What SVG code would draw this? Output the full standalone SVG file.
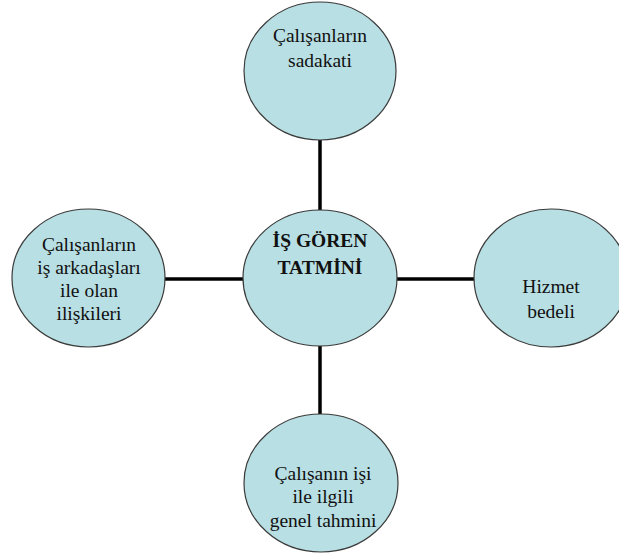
<svg xmlns="http://www.w3.org/2000/svg" width="619" height="557" viewBox="0 0 619 557">
<style>
.n{fill:#b8dfe3;stroke:#3a3a3a;stroke-width:1.2}
.t{font-family:"Liberation Serif","Times New Roman",serif;font-size:19.5px;fill:#111;text-anchor:middle}
.b{font-weight:bold}
.c{stroke:#000;stroke-width:3.5;fill:none}
</style>
<rect width="619" height="557" fill="#fff"/>
<g id="connectors">
<line class="c" x1="320" y1="139" x2="320" y2="210"/>
<line class="c" x1="320" y1="346" x2="320" y2="414"/>
<line class="c" x1="164" y1="279" x2="244" y2="279"/>
<line class="c" x1="396" y1="279" x2="475" y2="279"/>
</g>
<g id="top">
<ellipse class="n" cx="320" cy="71" rx="76" ry="69"/>
<text class="t" x="320" y="42">Çalışanların</text>
<text class="t" x="320" y="67">sadakati</text>
</g>
<g id="center">
<ellipse class="n" cx="320" cy="278" rx="77" ry="68"/>
<text class="t b" x="320" y="247">İŞ GÖREN</text>
<text class="t b" x="320" y="274">TATMİNİ</text>
</g>
<g id="left">
<ellipse class="n" cx="88.5" cy="278" rx="76.5" ry="69"/>
<text class="t" x="89" y="251">Çalışanların</text>
<text class="t" x="89" y="274">iş arkadaşları</text>
<text class="t" x="89" y="297">ile olan</text>
<text class="t" x="89" y="320">ilişkileri</text>
</g>
<g id="right">
<ellipse class="n" cx="551" cy="278" rx="77" ry="69"/>
<text class="t" x="551" y="293">Hizmet</text>
<text class="t" x="551" y="318">bedeli</text>
</g>
<g id="bottom">
<ellipse class="n" cx="321" cy="483" rx="77" ry="69"/>
<text class="t" x="323" y="480">Çalışanın işi</text>
<text class="t" x="323" y="503">ile ilgili</text>
<text class="t" x="323" y="527">genel tahmini</text>
</g>
</svg>
